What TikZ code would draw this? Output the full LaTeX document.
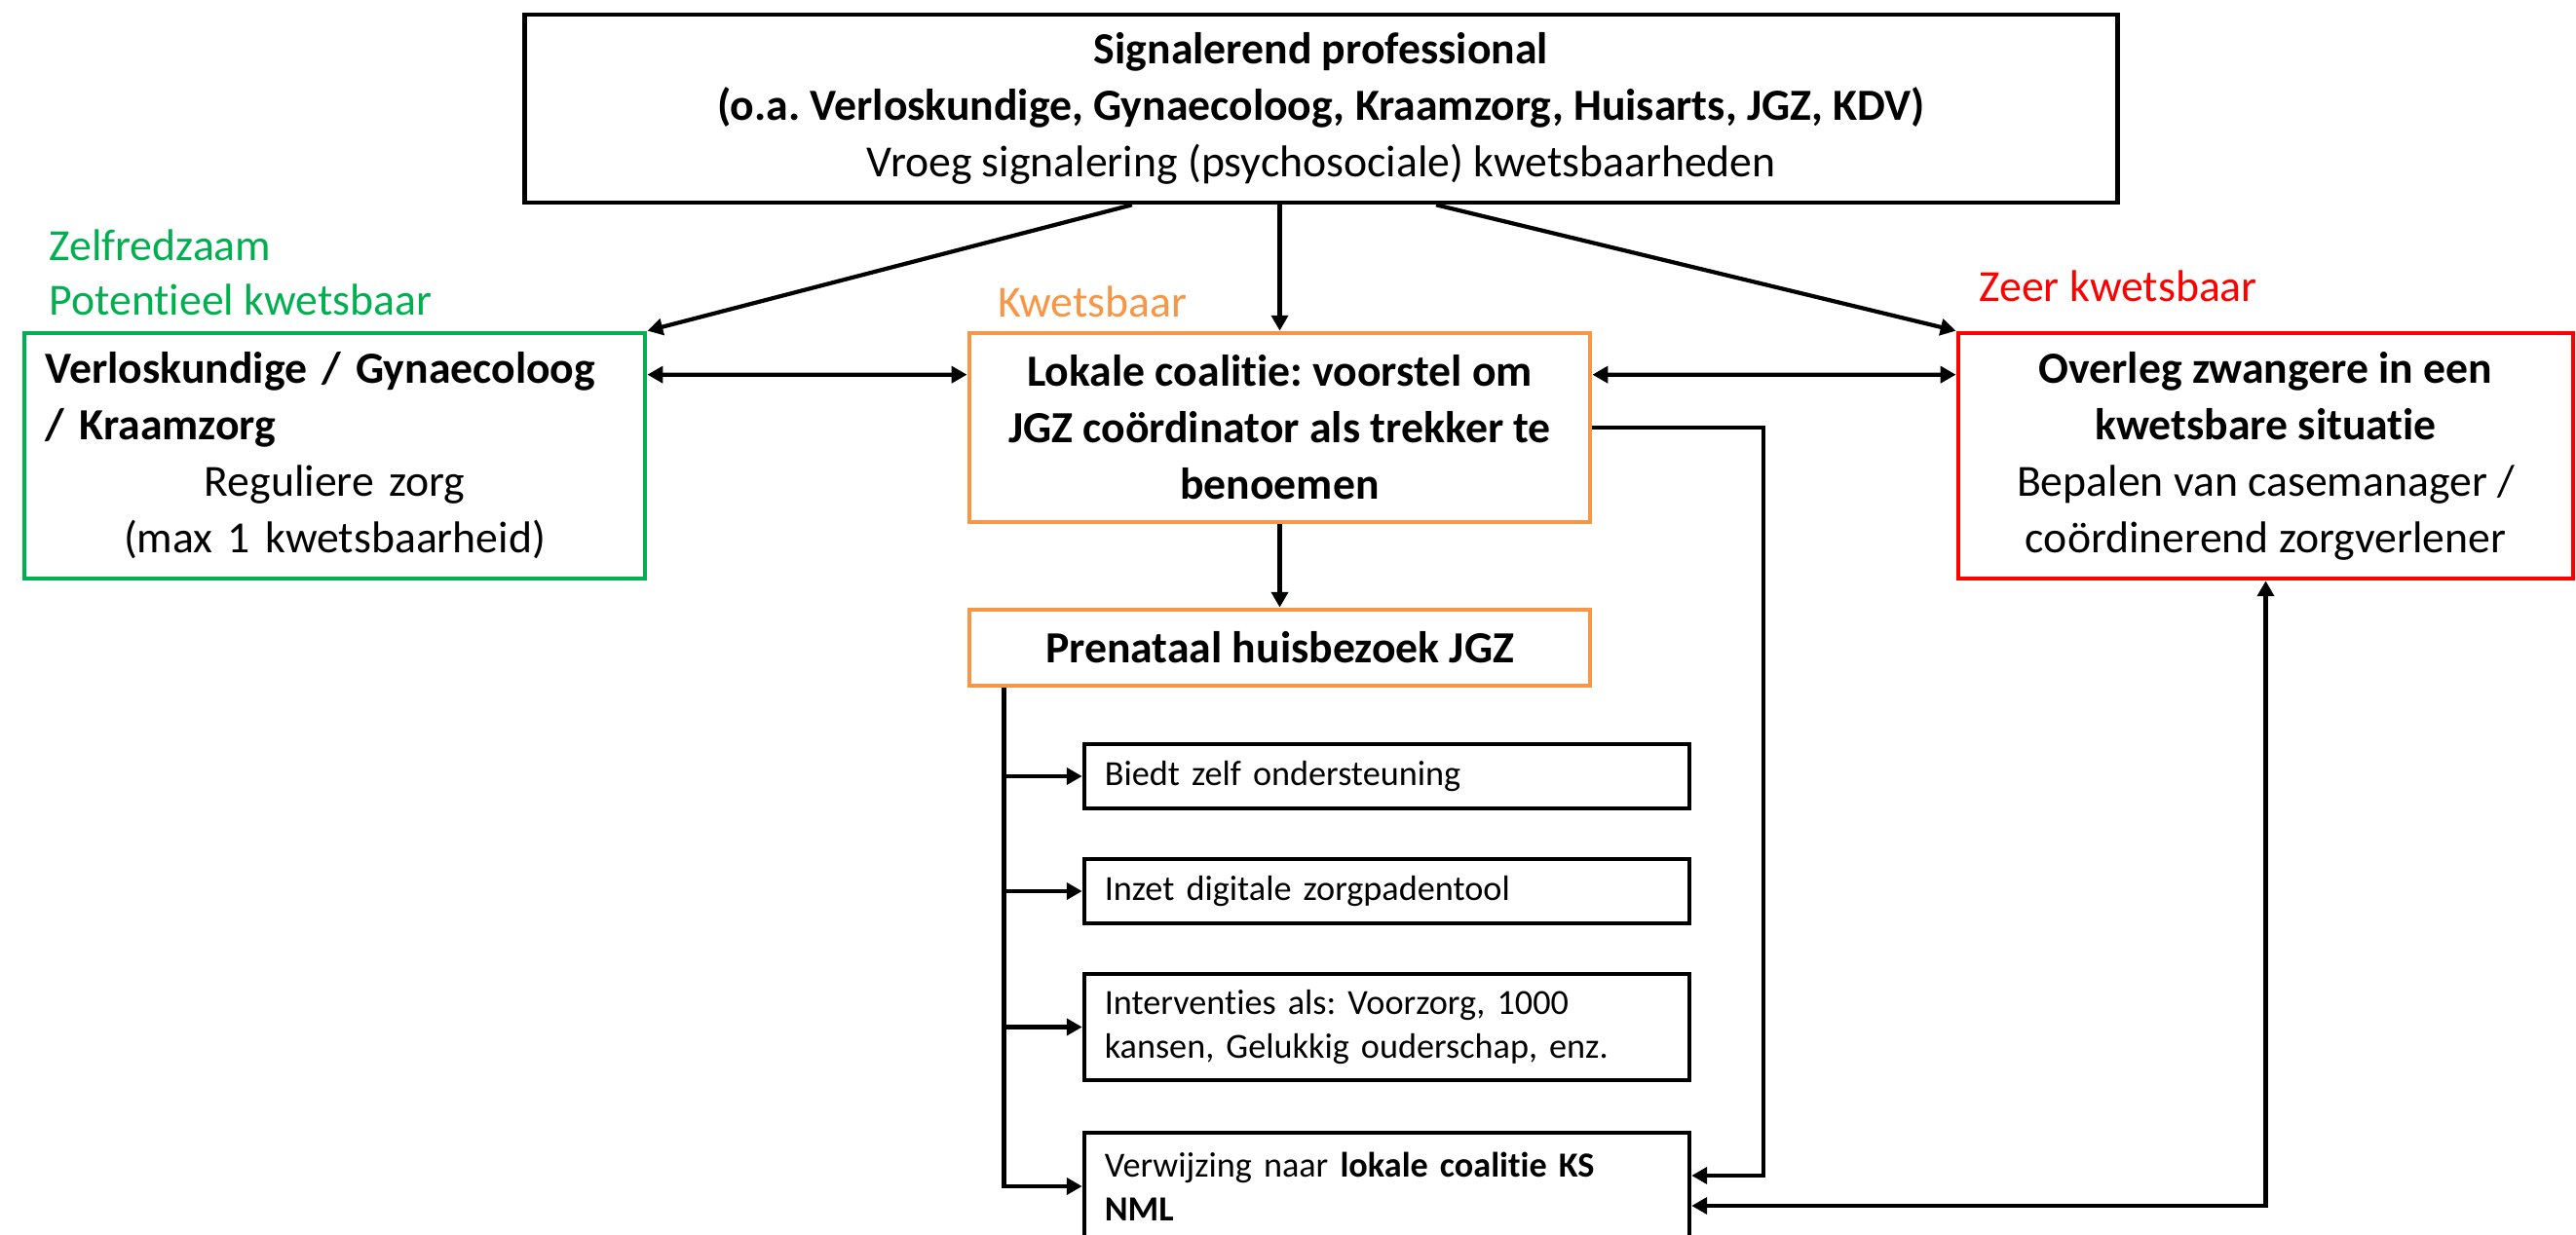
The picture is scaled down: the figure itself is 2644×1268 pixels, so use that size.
\documentclass[tikz,border=0pt]{standalone}
\usepackage{fontspec}
\setmainfont{Carlito}[Ligatures={NoCommon}]
\usetikzlibrary{arrows.meta,calc}
\setlength{\parindent}{0pt}
\frenchspacing

\definecolor{zgreen}{RGB}{0,176,80}
\definecolor{korange}{RGB}{247,150,70}
\definecolor{zred}{RGB}{255,0,0}

\newcommand{\bigtxt}{\fontsize{13}{16.5}\selectfont}
\newcommand{\smalltxt}{\fontsize{10.3}{12.8}\selectfont}

\tikzset{
  box/.style={draw, line width=1.3pt, inner sep=0pt, font=\bigtxt},
  smallbox/.style={draw, line width=1.2pt, inner xsep=0.21cm, inner ysep=0pt,
    minimum width=6.21cm, text width=5.79cm, align=left, font=\smalltxt},
  conn/.style={line width=1.2pt},
  arr/.style={conn, -{Triangle[length=4.5pt,width=4.8pt]}},
  dblarr/.style={conn, {Triangle[length=4.5pt,width=4.8pt]}-{Triangle[length=4.5pt,width=4.8pt]}},
  level/.style={anchor=base west, inner sep=0pt, font=\bigtxt}
}

\begin{document}
\begin{tikzpicture}[x=0.01cm,y=-0.01cm]
\useasboundingbox (0,0) rectangle (2644,1268);
\clip (0,0) rectangle (2644,1268);

% Signalerend professional on top
\node[box, minimum width=16.34cm, minimum height=1.93cm, align=center] (sig) at (1356,111.5)
  {\textbf{Signalerend professional}\\
   \textbf{(o.a. Verloskundige, Gynaecoloog, Kraamzorg, Huisarts, JGZ, KDV)}\\
   Vroeg signalering (psychosociale) kwetsbaarheden};

% The three levels
\node[level, text=zgreen] (zelf) at (50,268) {Zelfredzaam};
\node[level, text=zgreen] (pot) at (50,324) {Potentieel kwetsbaar};
\node[level, text=korange] (kw) at (1024,326) {Kwetsbaar};
\node[level, text=zred] (zkw) at (2031,310) {Zeer kwetsbaar};

\node[box, draw=zgreen, minimum width=6.37cm, minimum height=2.52cm, text width=5.93cm] (vk) at (343.5,468)
  {{\raggedright\bfseries Verloskundige / Gynaecoloog\\/ Kraamzorg\par}
   {\centering Reguliere zorg\\(max 1 kwetsbaarheid)\par}};
\node[box, draw=korange, minimum width=6.37cm, minimum height=1.94cm, align=center, font=\bigtxt\bfseries] (lc) at (1313.5,439)
  {Lokale coalitie: voorstel om\\JGZ coördinator als trekker te\\benoemen};
\node[box, draw=zred, minimum width=6.31cm, minimum height=2.52cm, align=center] (ov) at (2325.5,468)
  {\textbf{Overleg zwangere in een}\\\textbf{kwetsbare situatie}\\
   Bepalen van casemanager /\\coördinerend zorgverlener};

% Prenatal visit and what follows from it
\node[box, draw=korange, minimum width=6.37cm, minimum height=0.78cm, font=\bigtxt\bfseries] (ph) at (1313.5,665)
  {Prenataal huisbezoek JGZ};
\node[smallbox, minimum height=0.66cm] (b1) at (1423.5,797) {Biedt zelf ondersteuning};
\node[smallbox, minimum height=0.66cm] (b2) at (1423.5,915) {Inzet digitale zorgpadentool};
\node[smallbox, minimum height=1.09cm] (b3) at (1423.5,1054.5)
  {Interventies als: Voorzorg, 1000\\kansen, Gelukkig ouderschap, enz.};
\node[smallbox, minimum height=1.10cm] (b4) at (1423.5,1218)
  {Verwijzing naar \textbf{lokale coalitie KS}\\\textbf{NML}};

% Arrows from the top
\draw[arr] ([xshift=-1.94cm]sig.south) -- (vk.north east);
\draw[arr] (sig.south -| lc.north) -- (lc.north);
\draw[arr] ([xshift=1.18cm]sig.south) -- (ov.north west);

% Between the levels
\draw[dblarr] ([yshift=-0.45cm]vk.north east) -- ([yshift=-0.45cm]lc.north west);
\draw[dblarr] ([yshift=-0.45cm]lc.north east) -- ([yshift=-0.45cm]ov.north west);
\draw[arr] (lc.south) -- (ph.north);

% Trunk below the prenatal visit
\coordinate (trunk) at ([xshift=0.38cm]ph.south west);
\draw[arr] (trunk) |- (b4.west);
\foreach \n in {b1,b2,b3}
  \draw[arr] (trunk |- \n.west) -- (\n.west);

% Back to the referral
\coordinate (k1) at (1810,1207);
\coordinate (k2) at (2325.5,1238);
\draw[arr] (lc.east) -| (k1) -- (k1 -| b4.east);
\draw[dblarr] (k2 -| b4.east) -| (ov.south);

\end{tikzpicture}
\end{document}
